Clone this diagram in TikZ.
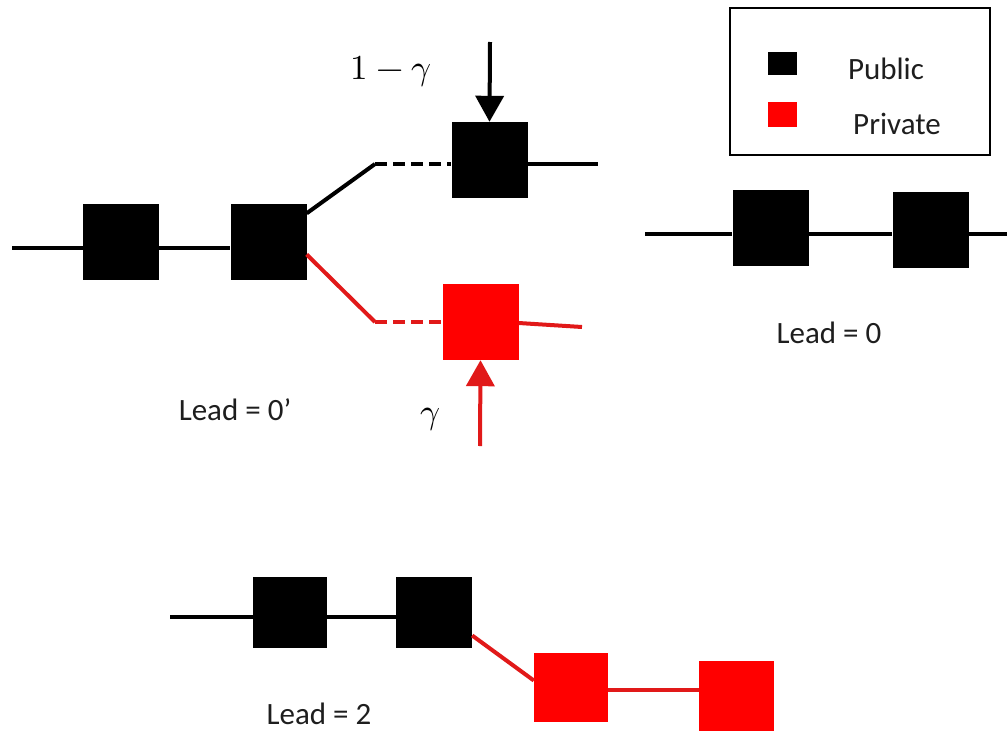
\documentclass[tikz,border=0pt]{standalone}
\usepackage{fontspec}
\usepackage{unicode-math}
\setmainfont{Carlito}
\setmathfont{Latin Modern Math}
\usetikzlibrary{arrows.meta,calc}
\definecolor{priv}{RGB}{255,0,0}
\definecolor{privline}{RGB}{225,25,25}
\definecolor{txt}{RGB}{30,30,30}
\begin{document}
\begin{tikzpicture}[x=1pt,y=-1pt,
  pubblk/.style={draw=none,fill=black,minimum width=76pt,minimum height=76pt,inner sep=0pt},
  privblk/.style={draw=none,fill=priv,minimum width=76pt,minimum height=76pt,inner sep=0pt},
  chain/.style={line width=4pt,black},
  pchain/.style={line width=4pt,privline},
  dashseg/.style={dash pattern=on 12pt off 6pt},
  lbl/.style={font=\fontsize{31}{34}\selectfont,inner sep=0pt,text=txt},
  mlbl/.style={font=\fontsize{35}{38}\selectfont,inner sep=0pt},
  tip/.style={-{Triangle[length=26pt,width=28pt]}}]
\useasboundingbox (0,0) rectangle (1007,731);
\clip (0,0) rectangle (1007,731);

% ---- fork: public vs private branch ----
\coordinate (f0) at (12,248);
\node[pubblk] (a1) at (121,241.5) {};
\node[pubblk] (a2) at (268.5,241.5) {};
\coordinate (bb) at (375,164);
\coordinate (rb) at (375,322);
\node[pubblk] (b3) at (489.5,160) {};
\node[privblk] (r1) at (480.5,322) {};
\coordinate (bend) at (598,164);
\coordinate (rend) at (582,327);
\coordinate (btop) at (490,42);
\coordinate (rbot) at (480,446);

\draw[chain] (f0) -- (a1.west|-f0);
\draw[chain] (a1.east|-f0) -- (a2.west|-f0);
\draw[chain] ($(a2.north east)+(0,10)$) -- (bb);
\draw[chain,dashseg] (bb) -- (b3.west|-bb);
\draw[chain] (b3.east|-bb) -- (bend);
\draw[pchain] ($(a2.east)+(0,13)$) -- (rb);
\draw[pchain,dashseg] (rb) -- (r1.west|-rb);
\draw[pchain] ($(r1.east)+(0,1)$) -- (rend);
\draw[chain,tip] (btop) -- (b3.north);
\draw[pchain,tip,line width=4pt] (rbot) -- (r1.south);

\node[mlbl] (g1) at (391,72) {$1-\gamma$};
\node[mlbl] (g2) at (430,420) {$\gamma$};
\node[lbl] (l0p) at (235,410) {Lead = 0’};

% ---- legend ----
\node[draw=black,line width=1.5pt,minimum width=260pt,minimum height=147pt,inner sep=0pt] (leg) at (860,81.5) {};
\node[fill=black,minimum width=29pt,minimum height=23pt,inner sep=0pt] (lk) at (782.5,63.5) {};
\node[fill=priv,minimum width=29pt,minimum height=25pt,inner sep=0pt] (lr) at (782.5,114.5) {};
\node[lbl] (lpub) at (886,69) {Public};
\node[lbl] (lpriv) at (897,124) {Private};

% ---- chain with lead 0 ----
\coordinate (s0) at (645,234);
\coordinate (s1) at (1010,234);
\node[pubblk] (c1) at (770.5,227.5) {};
\node[pubblk] (c2) at (930.5,230) {};
\draw[chain] (s0) -- (c1.west|-s0);
\draw[chain] (c1.east|-s0) -- (c2.west|-s0);
\draw[chain] (c2.east|-s0) -- (s1);
\node[lbl] (l0) at (829,333) {Lead = 0};

% ---- chain with lead 2 ----
\coordinate (t0) at (170,617);
\node[pubblk,minimum height=71pt,minimum width=74pt] (d1) at (290,612.5) {};
\node[pubblk,minimum height=71pt,minimum width=76pt] (d2) at (434,612.5) {};
\node[privblk,minimum height=69pt,minimum width=74pt] (p1) at (571,687.5) {};
\node[privblk,minimum height=74pt,minimum width=75pt] (p2) at (736.5,698) {};
\draw[chain] (t0) -- (d1.west|-t0);
\draw[chain] (d1.east|-t0) -- (d2.west|-t0);
\draw[pchain] ($(d2.east)+(0,23)$) -- ($(p1.west)+(0,-7)$);
\draw[pchain] (p1.east|-0,690) -- (p2.west|-0,690);
\node[lbl] (l2) at (319,714) {Lead = 2};
\end{tikzpicture}
\end{document}
